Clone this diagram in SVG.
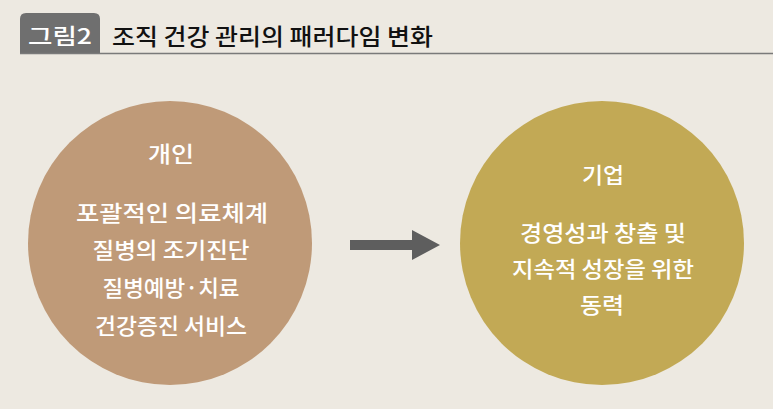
<svg xmlns="http://www.w3.org/2000/svg" width="773" height="409" viewBox="0 0 773 409">
<style>
text{font-family:"Noto Sans CJK KR","Noto Sans",sans-serif;font-weight:500;}
.w{fill:#fff;text-anchor:middle;font-size:22px;}
</style>
<rect width="773" height="409" fill="#ede9e1"/>
<g id="header">
<path d="M20 53 V19 Q20 13 26 13 H94 Q100 13 100 19 V53 Z" fill="#6f6f6f"/>
<line x1="20" y1="53.5" x2="773" y2="53.5" stroke="#7a7a7a" stroke-width="1.5"/>
<text x="60" y="44" fill="#fff" font-size="22" text-anchor="middle" textLength="64" lengthAdjust="spacingAndGlyphs">그림2</text>
<text x="112" y="45" fill="#111" font-size="23" textLength="321" lengthAdjust="spacingAndGlyphs">조직 건강 관리의 패러다임 변화</text>
</g>
<g id="individual">
<circle cx="170" cy="243" r="142" fill="#bf9a78"/>
<text class="w" x="171" y="162" textLength="46" lengthAdjust="spacingAndGlyphs">개인</text>
<text class="w" x="172" y="221" textLength="192" lengthAdjust="spacingAndGlyphs">포괄적인 의료체계</text>
<text class="w" x="171" y="258" textLength="157" lengthAdjust="spacingAndGlyphs">질병의 조기진단</text>
<text class="w" x="171" y="296" textLength="137" lengthAdjust="spacingAndGlyphs">질병예방·치료</text>
<text class="w" x="171" y="334" textLength="152" lengthAdjust="spacingAndGlyphs">건강증진 서비스</text>
</g>
<g id="enterprise">
<circle cx="602" cy="243" r="142" fill="#c2a955"/>
<text class="w" x="603" y="183" textLength="42" lengthAdjust="spacingAndGlyphs">기업</text>
<text class="w" x="603" y="241" textLength="166" lengthAdjust="spacingAndGlyphs">경영성과 창출 및</text>
<text class="w" x="603" y="277" textLength="182" lengthAdjust="spacingAndGlyphs">지속적 성장을 위한</text>
<text class="w" x="602" y="313" textLength="44" lengthAdjust="spacingAndGlyphs">동력</text>
</g>
<g id="connectors">
<path d="M350 240 H412 V230 L440 245 L412 260 V250 H350 Z" fill="#5e5e5e"/>
</g>
</svg>
